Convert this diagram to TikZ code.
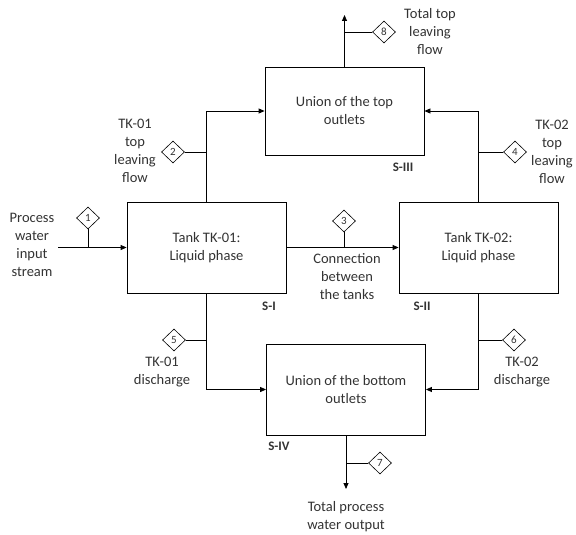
\documentclass[tikz,border=0pt]{standalone}
\usepackage{fontspec}
\setmainfont{Carlito}
\usepackage{tikz}
\usetikzlibrary{shapes.geometric}
\usetikzlibrary{arrows.meta}

\begin{document}
\begin{tikzpicture}[x=1pt, y=-1pt,
        font=\fontsize{14.5}{18}\selectfont, text=black!80,
        unit/.style={draw, line width=0.8pt, minimum width=159pt, minimum height=91pt, align=center, inner sep=0pt},
        tag/.style={diamond, draw, line width=0.6pt, inner sep=0.8pt, minimum width=23pt, minimum height=22pt, font=\fontsize{11}{12}\selectfont},
        lbl/.style={align=center, inner sep=0pt},
        sect/.style={inner sep=0pt, font=\fontsize{13}{14}\selectfont\bfseries},
        flow/.style={line width=0.8pt, -{Triangle[length=6pt, width=5pt]}},
        pipe/.style={line width=0.6pt}]
    \useasboundingbox (0,0) rectangle (576,535);

    % process units
    \node[unit] (tk1) at (206.5,247.5) {Tank TK-01:\\Liquid phase};
    \node[unit] (tk2) at (478.5,247.5) {Tank TK-02:\\Liquid phase};
    \node[unit, minimum height=88pt] (top) at (344.5,111) {Union of the top\\outlets};
    \node[unit] (bot) at (346,389.5) {Union of the bottom\\outlets};

    \node[sect] (s1) at (269,306) {S-I};
    \node[sect] (s2) at (422,306) {S-II};
    \node[sect] (s3) at (403,167) {S-III};
    \node[sect] (s4) at (279,446) {S-IV};

    % free ends
    \coordinate (in1) at (58,247.5);
    \coordinate (out8) at (344.5,15);
    \coordinate (out7) at (346,489);

    % streams
    \draw[flow] (in1) -- (tk1.west);
    \draw[flow] (tk1.east) -- (tk2.west);
    \draw[flow] (tk1.north) |- (top.west);
    \draw[flow] (tk2.north) |- (top.east);
    \draw[flow] (top.north) -- (out8);
    \draw[flow] (tk1.south) |- (bot.west);
    \draw[flow] (tk2.south) |- (bot.east);
    \draw[flow] (bot.south) -- (out7);

    % stream numbers
    \node[tag] (t1) at (88,218) {1};
    \node[tag] (t2) at (173,152) {2};
    \node[tag] (t3) at (344,221) {3};
    \node[tag] (t4) at (515,152) {4};
    \node[tag] (t5) at (174,340) {5};
    \node[tag] (t6) at (514,340) {6};
    \node[tag] (t7) at (380,463) {7};
    \node[tag] (t8) at (384,32) {8};

    \draw[pipe] (t1.south) -- (t1.south |- in1);
    \draw[pipe] (t2.east) -- (t2.east -| tk1.north);
    \draw[pipe] (t3.south) -- (t3.south |- tk1.east);
    \draw[pipe] (t4.west) -- (t4.west -| tk2.north);
    \draw[pipe] (t5.east) -- (t5.east -| tk1.south);
    \draw[pipe] (t6.west) -- (t6.west -| tk2.south);
    \draw[pipe] (t7.west) -- (t7.west -| bot.south);
    \draw[pipe] (t8.west) -- (t8.west -| top.north);

    % stream names
    \node[lbl] (l1) at (32,245) {Process\\water\\input\\stream};
    \node[lbl] (l2) at (135,151) {TK-01\\top\\leaving\\flow};
    \node[lbl] (l3) at (347,277) {Connection\\between\\the tanks};
    \node[lbl] (l4) at (552,151.5) {TK-02\\top\\leaving\\flow};
    \node[lbl] (l5) at (162,372) {TK-01\\discharge};
    \node[lbl] (l6) at (522,372) {TK-02\\discharge};
    \node[lbl] (l7) at (346,517) {Total process\\water output};
    \node[lbl] (l8) at (430,32) {Total top\\leaving\\flow};
\end{tikzpicture}
\end{document}
